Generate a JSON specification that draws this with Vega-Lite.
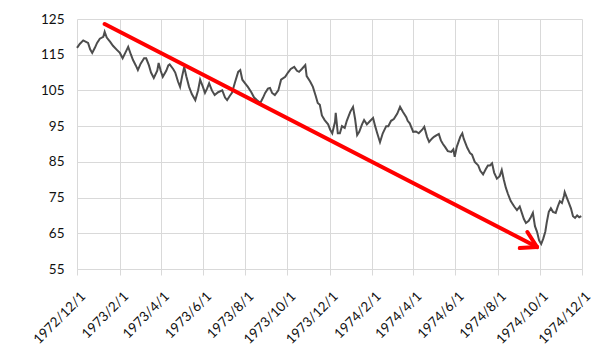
{
  "$schema": "https://vega.github.io/schema/vega-lite/v6.json",
  "width": 505,
  "height": 250,
  "autosize": {"type": "none"},
  "padding": {"left": 77, "top": 19, "right": 20, "bottom": 93},
  "background": "#ffffff",
  "config": {
    "view": {"stroke": null},
    "font": "Lato",
    "axis": {"labelFont": "Lato", "labelFontSize": 13.5, "labelColor": "#111111", "gridColor": "#d9d9d9", "gridWidth": 1}
  },
  "datasets": {
    "series": [
      {"d":"1972-12-01","v":116.9},{"d":"1972-12-05","v":118},{"d":"1972-12-10","v":119},{"d":"1972-12-14","v":118.6},
      {"d":"1972-12-17","v":118.3},{"d":"1972-12-20","v":116.5},{"d":"1972-12-23","v":115.5},{"d":"1972-12-27","v":117},
      {"d":"1972-12-30","v":118.3},{"d":"1973-01-03","v":119.5},{"d":"1973-01-08","v":120},{"d":"1973-01-10","v":121.4},
      {"d":"1973-01-13","v":119.8},{"d":"1973-01-18","v":118.6},{"d":"1973-01-22","v":117.5},{"d":"1973-01-28","v":116.3},
      {"d":"1973-02-01","v":115.5},{"d":"1973-02-05","v":114},{"d":"1973-02-10","v":116},{"d":"1973-02-13","v":117.2},
      {"d":"1973-02-17","v":115},{"d":"1973-02-20","v":113.5},{"d":"1973-02-24","v":112},{"d":"1973-02-27","v":110.7},
      {"d":"1973-03-03","v":112.5},{"d":"1973-03-08","v":114},{"d":"1973-03-11","v":114},{"d":"1973-03-15","v":112},
      {"d":"1973-03-18","v":110},{"d":"1973-03-22","v":108.5},{"d":"1973-03-27","v":110.5},{"d":"1973-03-29","v":112.7},
      {"d":"1973-04-01","v":110.5},{"d":"1973-04-04","v":108.8},{"d":"1973-04-09","v":110.5},{"d":"1973-04-12","v":112},
      {"d":"1973-04-14","v":112.3},{"d":"1973-04-19","v":111},{"d":"1973-04-22","v":110},{"d":"1973-04-26","v":107.5},
      {"d":"1973-04-29","v":106},{"d":"1973-05-02","v":109},{"d":"1973-05-05","v":111.6},{"d":"1973-05-08","v":109},
      {"d":"1973-05-12","v":106},{"d":"1973-05-16","v":104},{"d":"1973-05-21","v":102.3},{"d":"1973-05-25","v":105},
      {"d":"1973-05-28","v":108},{"d":"1973-06-01","v":106},{"d":"1973-06-04","v":104.3},{"d":"1973-06-07","v":105.5},
      {"d":"1973-06-10","v":107},{"d":"1973-06-14","v":105},{"d":"1973-06-18","v":103.7},{"d":"1973-06-23","v":104.5},
      {"d":"1973-06-29","v":105},{"d":"1973-07-03","v":103},{"d":"1973-07-06","v":102.3},{"d":"1973-07-10","v":103.5},
      {"d":"1973-07-13","v":104.3},{"d":"1973-07-17","v":107},{"d":"1973-07-22","v":110.2},{"d":"1973-07-25","v":110.7},
      {"d":"1973-07-28","v":108},{"d":"1973-08-01","v":107},{"d":"1973-08-05","v":106},{"d":"1973-08-10","v":104.5},
      {"d":"1973-08-14","v":103},{"d":"1973-08-18","v":102.3},{"d":"1973-08-23","v":101.5},{"d":"1973-08-27","v":103},
      {"d":"1973-08-30","v":104.3},{"d":"1973-09-03","v":105.5},{"d":"1973-09-06","v":105.7},{"d":"1973-09-09","v":104.3},
      {"d":"1973-09-13","v":103.7},{"d":"1973-09-18","v":105},{"d":"1973-09-22","v":108},{"d":"1973-09-28","v":108.8},
      {"d":"1973-10-02","v":110},{"d":"1973-10-06","v":111},{"d":"1973-10-11","v":111.6},{"d":"1973-10-15","v":110.5},
      {"d":"1973-10-18","v":110.2},{"d":"1973-10-22","v":111},{"d":"1973-10-27","v":112.1},{"d":"1973-10-29","v":109},
      {"d":"1973-11-03","v":107.5},{"d":"1973-11-07","v":106},{"d":"1973-11-11","v":103.5},{"d":"1973-11-14","v":101.5},
      {"d":"1973-11-17","v":101},{"d":"1973-11-20","v":98},{"d":"1973-11-24","v":96.7},{"d":"1973-11-29","v":95.5},
      {"d":"1973-12-02","v":94},{"d":"1973-12-05","v":93},{"d":"1973-12-09","v":96.2},{"d":"1973-12-10","v":98.7},
      {"d":"1973-12-13","v":93},{"d":"1973-12-16","v":93},{"d":"1973-12-19","v":95},{"d":"1973-12-23","v":94.5},
      {"d":"1973-12-26","v":96.5},{"d":"1973-12-31","v":99},{"d":"1974-01-04","v":100.4},{"d":"1974-01-07","v":97},
      {"d":"1974-01-10","v":92.5},{"d":"1974-01-13","v":93.4},{"d":"1974-01-17","v":95.5},{"d":"1974-01-20","v":96.7},
      {"d":"1974-01-24","v":95.5},{"d":"1974-01-29","v":96.5},{"d":"1974-02-02","v":97.3},{"d":"1974-02-05","v":95},
      {"d":"1974-02-08","v":93},{"d":"1974-02-12","v":90.5},{"d":"1974-02-16","v":93},{"d":"1974-02-21","v":95},
      {"d":"1974-02-24","v":95},{"d":"1974-02-28","v":96.5},{"d":"1974-03-04","v":97},{"d":"1974-03-09","v":98.5},
      {"d":"1974-03-13","v":100.4},{"d":"1974-03-17","v":99},{"d":"1974-03-22","v":97.5},{"d":"1974-03-24","v":96.5},
      {"d":"1974-03-27","v":95.8},{"d":"1974-04-01","v":93.4},{"d":"1974-04-05","v":93.5},{"d":"1974-04-09","v":93},
      {"d":"1974-04-14","v":94},{"d":"1974-04-17","v":94.8},{"d":"1974-04-21","v":92},{"d":"1974-04-24","v":90.6},
      {"d":"1974-04-28","v":91.5},{"d":"1974-05-01","v":92},{"d":"1974-05-05","v":92.5},{"d":"1974-05-08","v":92.8},
      {"d":"1974-05-11","v":91},{"d":"1974-05-14","v":90},{"d":"1974-05-17","v":89.2},{"d":"1974-05-21","v":88},
      {"d":"1974-05-26","v":87.8},{"d":"1974-05-29","v":88.5},{"d":"1974-05-31","v":86.4},{"d":"1974-06-03","v":89.2},
      {"d":"1974-06-08","v":92},{"d":"1974-06-11","v":93},{"d":"1974-06-13","v":91.5},{"d":"1974-06-18","v":89},
      {"d":"1974-06-22","v":87.5},{"d":"1974-06-25","v":87},{"d":"1974-06-29","v":85},{"d":"1974-07-04","v":84},
      {"d":"1974-07-07","v":82.5},{"d":"1974-07-11","v":81.5},{"d":"1974-07-15","v":83},{"d":"1974-07-18","v":84},
      {"d":"1974-07-21","v":84},{"d":"1974-07-24","v":84.6},{"d":"1974-07-27","v":82},{"d":"1974-07-31","v":80.3},
      {"d":"1974-08-04","v":81},{"d":"1974-08-07","v":82.7},{"d":"1974-08-10","v":80},{"d":"1974-08-13","v":77.7},
      {"d":"1974-08-16","v":76},{"d":"1974-08-20","v":74},{"d":"1974-08-25","v":72.5},{"d":"1974-08-29","v":71.5},
      {"d":"1974-09-02","v":72.5},{"d":"1974-09-05","v":70.7},{"d":"1974-09-08","v":69},{"d":"1974-09-11","v":67.9},
      {"d":"1974-09-15","v":68.5},{"d":"1974-09-18","v":69.5},{"d":"1974-09-21","v":70.7},{"d":"1974-09-24","v":67},
      {"d":"1974-09-27","v":65.4},{"d":"1974-09-30","v":63},{"d":"1974-10-03","v":62},{"d":"1974-10-06","v":63.5},
      {"d":"1974-10-09","v":65.5},{"d":"1974-10-11","v":68},{"d":"1974-10-14","v":71},{"d":"1974-10-17","v":72},
      {"d":"1974-10-20","v":71},{"d":"1974-10-24","v":70.7},{"d":"1974-10-27","v":72.5},{"d":"1974-10-30","v":74},
      {"d":"1974-11-02","v":73.5},{"d":"1974-11-05","v":75.5},{"d":"1974-11-06","v":76.5},{"d":"1974-11-09","v":75},
      {"d":"1974-11-12","v":73.5},{"d":"1974-11-15","v":72},{"d":"1974-11-18","v":69.8},{"d":"1974-11-21","v":69.3},
      {"d":"1974-11-24","v":70},{"d":"1974-11-27","v":69.5},{"d":"1974-11-30","v":69.8}
    ],
    "arrow": [
      {"d":"1973-01-10","v":123.6,"d2":"1974-09-27","v2":61.15},
      {"d":"1974-09-02","v":60.87,"d2":"1974-09-27","v2":61.15},
      {"d":"1974-09-13","v":65.35,"d2":"1974-09-27","v2":61.15}
    ]
  },
  "encoding": {
    "x": {
      "field": "d", "type": "temporal", "title": null,
      "scale": {"type": "utc", "domain": ["1972-12-01", "1974-12-01"], "nice": false},
      "axis": {
        "values": ["1972-12-01","1973-02-01","1973-04-01","1973-06-01","1973-08-01","1973-10-01","1973-12-01","1974-02-01","1974-04-01","1974-06-01","1974-08-01","1974-10-01","1974-12-01"],
        "labelExpr": "utcFormat(datum.value, '%Y/%-m/%-d')",
        "labelAngle": -45, "labelAlign": "right", "labelBaseline": "middle",
        "labelPadding": 19, "labelOffset": 6, "labelOverlap": false, "labelFlush": false,
        "grid": true, "ticks": true, "tickSize": 6, "tickColor": "#d9d9d9",
        "domain": true, "domainColor": "#d9d9d9"
      }
    },
    "y": {
      "field": "v", "type": "quantitative", "title": null,
      "scale": {"domain": [55, 125], "nice": false, "zero": false},
      "axis": {
        "values": [55, 65, 75, 85, 95, 105, 115, 125],
        "labelOverlap": false,
        "grid": true, "ticks": false, "domain": false, "labelPadding": 13
      }
    }
  },
  "layer": [
    {
      "data": {"name": "series"},
      "mark": {"type": "line", "color": "#4d4d4d", "strokeWidth": 2, "interpolate": "linear"}
    },
    {
      "data": {"name": "arrow"},
      "mark": {"type": "rule", "color": "#ff0000", "strokeWidth": 4, "strokeCap": "round"},
      "encoding": {
        "x2": {"field": "d2"},
        "y2": {"field": "v2"}
      }
    }
  ]
}
